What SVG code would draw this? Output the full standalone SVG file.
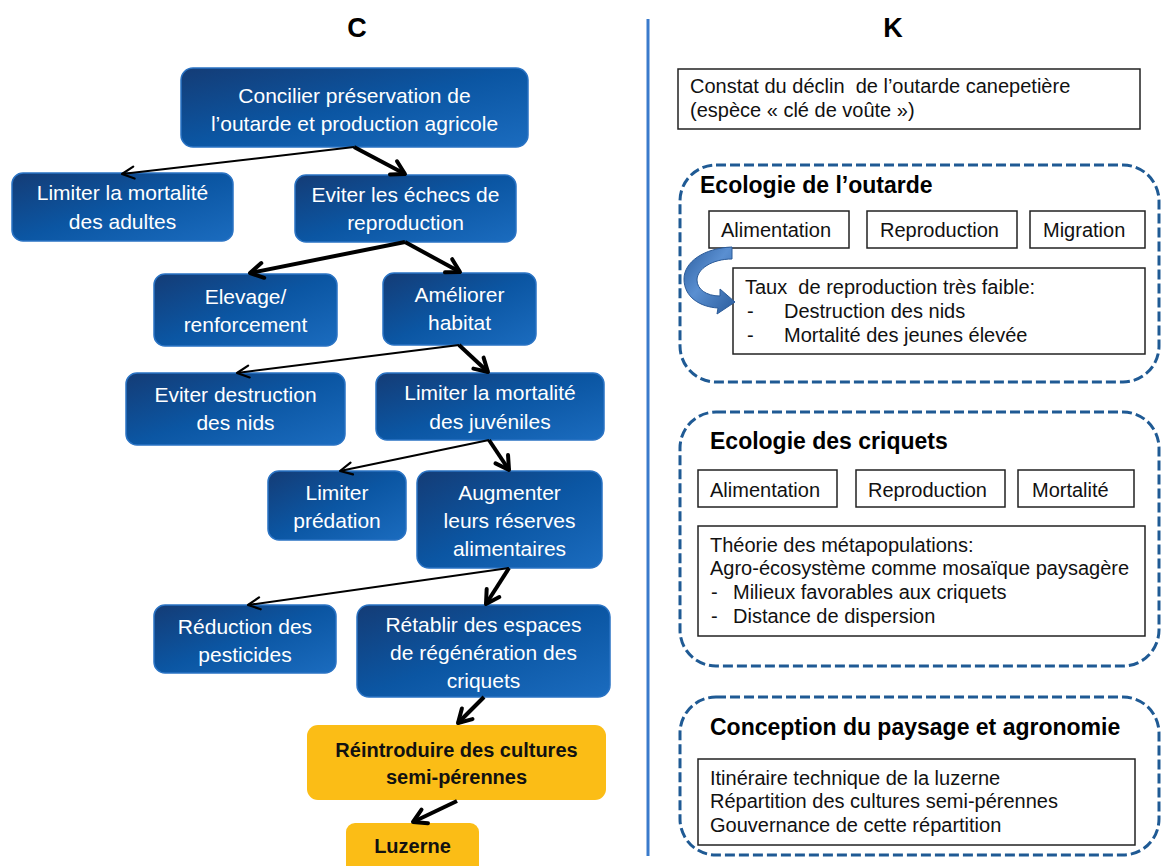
<svg xmlns="http://www.w3.org/2000/svg" width="1163" height="866" viewBox="0 0 1163 866">
<defs>
<linearGradient id="blueG" x1="0" y1="0" x2="1" y2="1">
<stop offset="0" stop-color="#143c76"/>
<stop offset="0.5" stop-color="#0b56a3"/>
<stop offset="1" stop-color="#1b6cbf"/>
</linearGradient>
<linearGradient id="curveG" x1="0" y1="0" x2="1" y2="1">
<stop offset="0" stop-color="#2c5e9f"/>
<stop offset="0.45" stop-color="#5a8fd1"/>
<stop offset="1" stop-color="#2a5c9c"/>
</linearGradient>
<marker id="thin" viewBox="0 0 18 18" refX="15" refY="9" markerWidth="18" markerHeight="18" markerUnits="userSpaceOnUse" orient="auto">
<path d="M3,3 L15,9 L3,15" fill="none" stroke="#000" stroke-width="2.2" stroke-linecap="round" stroke-linejoin="round"/>
</marker>
<marker id="thick" viewBox="0 0 20 20" refX="17" refY="10" markerWidth="20" markerHeight="20" markerUnits="userSpaceOnUse" orient="auto">
<path d="M4,2.5 L17,10 L4,17.5" fill="none" stroke="#000" stroke-width="4" stroke-linecap="round" stroke-linejoin="round"/>
</marker>
</defs>
<style>
.bn{fill:url(#blueG);stroke:#2a73c4;stroke-width:1.5}
.yn{fill:#fbbd16}
.wt{font-family:"Liberation Sans",Arial,sans-serif;font-size:21px;fill:#fff;text-anchor:middle}
.yt{font-family:"Liberation Sans",Arial,sans-serif;font-size:20px;font-weight:bold;fill:#111;text-anchor:middle}
.hd{font-family:"Liberation Sans",Arial,sans-serif;font-size:27px;font-weight:bold;fill:#000;text-anchor:middle}
.kt{font-family:"Liberation Sans",Arial,sans-serif;font-size:20px;fill:#111}
.tt{font-family:"Liberation Sans",Arial,sans-serif;font-size:23px;font-weight:bold;fill:#000}
.bx{fill:#fff;stroke:#222;stroke-width:1.5}
.dash{fill:none;stroke:#1f5a94;stroke-width:3;stroke-dasharray:10 4}
.c1{fill:none;stroke:#000;stroke-width:2;marker-end:url(#thin)}
.c2{fill:none;stroke:#000;stroke-width:4;marker-end:url(#thick)}
</style>
<rect width="1163" height="866" fill="#fff"/>

<text class="hd" x="357" y="37">C</text>
<text class="hd" x="893" y="37">K</text>
<line x1="648" y1="19" x2="648" y2="856" stroke="#3a7bcc" stroke-width="3"/>

<g id="n-concilier">
<rect class="bn" x="181" y="68" width="347" height="79" rx="12"/>
<text class="wt" x="354.5" y="103">Concilier préservation de</text>
<text class="wt" x="354.5" y="131">l’outarde et production agricole</text>
</g>
<g id="n-adultes">
<rect class="bn" x="12" y="173" width="221" height="68" rx="11"/>
<text class="wt" x="122.5" y="200">Limiter la mortalité</text>
<text class="wt" x="122.5" y="229">des adultes</text>
</g>
<g id="n-echecs">
<rect class="bn" x="295" y="175" width="221" height="67" rx="11"/>
<text class="wt" x="405.5" y="202">Eviter les échecs de</text>
<text class="wt" x="405.5" y="230">reproduction</text>
</g>
<g id="n-elevage">
<rect class="bn" x="154" y="274" width="183" height="72" rx="11"/>
<text class="wt" x="245.5" y="304">Elevage/</text>
<text class="wt" x="245.5" y="332">renforcement</text>
</g>
<g id="n-habitat">
<rect class="bn" x="383" y="273" width="153" height="72" rx="11"/>
<text class="wt" x="459.5" y="302">Améliorer</text>
<text class="wt" x="459.5" y="330">habitat</text>
</g>
<g id="n-nids">
<rect class="bn" x="126" y="373" width="219" height="72" rx="11"/>
<text class="wt" x="235.5" y="402">Eviter destruction</text>
<text class="wt" x="235.5" y="430">des nids</text>
</g>
<g id="n-juveniles">
<rect class="bn" x="376" y="373" width="228" height="67" rx="11"/>
<text class="wt" x="490" y="400">Limiter la mortalité</text>
<text class="wt" x="490" y="429">des juvéniles</text>
</g>
<g id="n-predation">
<rect class="bn" x="268" y="471" width="138" height="69" rx="11"/>
<text class="wt" x="337" y="500">Limiter</text>
<text class="wt" x="337" y="528">prédation</text>
</g>
<g id="n-reserves">
<rect class="bn" x="417" y="471" width="185" height="97" rx="12"/>
<text class="wt" x="509.5" y="500">Augmenter</text>
<text class="wt" x="509.5" y="528">leurs réserves</text>
<text class="wt" x="509.5" y="556">alimentaires</text>
</g>
<g id="n-pesticides">
<rect class="bn" x="154" y="605" width="182" height="68" rx="11"/>
<text class="wt" x="245" y="634">Réduction des</text>
<text class="wt" x="245" y="662">pesticides</text>
</g>
<g id="n-espaces">
<rect class="bn" x="357" y="605" width="253" height="92" rx="12"/>
<text class="wt" x="483.5" y="632">Rétablir des espaces</text>
<text class="wt" x="483.5" y="660">de régénération des</text>
<text class="wt" x="483.5" y="688">criquets</text>
</g>
<g id="n-reintroduire">
<rect class="yn" x="307" y="725" width="299" height="75" rx="11"/>
<text class="yt" x="456.5" y="757">Réintroduire des cultures</text>
<text class="yt" x="456.5" y="784">semi-pérennes</text>
</g>
<g id="n-luzerne">
<rect class="yn" x="346" y="823" width="133" height="52" rx="9"/>
<text class="yt" x="412.5" y="853">Luzerne</text>
</g>

<g id="connectors">
<line class="c1" x1="354" y1="147" x2="122" y2="174"/>
<line class="c2" x1="354" y1="147" x2="405" y2="174"/>
<line class="c2" x1="405" y1="242" x2="250" y2="273"/>
<line class="c2" x1="405" y1="242" x2="460" y2="272"/>
<line class="c1" x1="459" y1="345" x2="237" y2="373"/>
<line class="c2" x1="459" y1="345" x2="488" y2="372"/>
<line class="c1" x1="489" y1="440" x2="340" y2="471"/>
<line class="c2" x1="489" y1="440" x2="509" y2="470"/>
<line class="c1" x1="509" y1="568" x2="248" y2="605"/>
<line class="c2" x1="509" y1="568" x2="486" y2="604"/>
<line class="c2" x1="484" y1="697" x2="458" y2="723"/>
<line class="c2" x1="457" y1="801" x2="413" y2="822"/>
</g>

<g id="k-constat">
<rect class="bx" x="678" y="69" width="462" height="60"/>
<text class="kt" x="690" y="93" xml:space="preserve">Constat du déclin  de l’outarde canepetière</text>
<text class="kt" x="690" y="117">(espèce « clé de voûte »)</text>
</g>

<g id="k-outarde">
<rect class="dash" x="680" y="165" width="479" height="217" rx="36"/>
<text class="tt" x="700" y="193">Ecologie de l’outarde</text>
<rect class="bx" x="709" y="211" width="140" height="37"/>
<text class="kt" x="721" y="237">Alimentation</text>
<rect class="bx" x="867" y="211" width="150" height="37"/>
<text class="kt" x="880" y="237">Reproduction</text>
<rect class="bx" x="1030" y="211" width="115" height="37"/>
<text class="kt" x="1043" y="237">Migration</text>
<rect class="bx" x="733" y="268" width="412" height="86"/>
<text class="kt" x="745" y="294" xml:space="preserve">Taux  de reproduction très faible:</text>
<text class="kt" x="747" y="318">-</text>
<text class="kt" x="784" y="318">Destruction des nids</text>
<text class="kt" x="747" y="342">-</text>
<text class="kt" x="784" y="342">Mortalité des jeunes élevée</text>
<path d="M732,247 C704,248 684,262 684,279 C684,297 700,307 718,308 L717,314 L735,302 L720,289 L720,296 C706,296 697,289 697,280 C697,269 712,259 732,259 Z" fill="url(#curveG)" stroke="#2a5a98" stroke-width="1"/>
</g>

<g id="k-criquets">
<rect class="dash" x="680" y="412" width="479" height="254" rx="36"/>
<text class="tt" x="710" y="449">Ecologie des criquets</text>
<rect class="bx" x="698" y="470" width="139" height="37"/>
<text class="kt" x="710" y="497">Alimentation</text>
<rect class="bx" x="856" y="470" width="149" height="37"/>
<text class="kt" x="868" y="497">Reproduction</text>
<rect class="bx" x="1018" y="470" width="116" height="37"/>
<text class="kt" x="1032" y="497">Mortalité</text>
<rect class="bx" x="698" y="526" width="447" height="110"/>
<text class="kt" x="710" y="552">Théorie des métapopulations:</text>
<text class="kt" x="710" y="575">Agro-écosystème comme mosaïque paysagère</text>
<text class="kt" x="711" y="599">-</text>
<text class="kt" x="733" y="599">Milieux favorables aux criquets</text>
<text class="kt" x="711" y="623">-</text>
<text class="kt" x="733" y="623">Distance de dispersion</text>
</g>

<g id="k-paysage">
<rect class="dash" x="680" y="697" width="479" height="158" rx="36"/>
<text class="tt" x="710" y="735">Conception du paysage et agronomie</text>
<rect class="bx" x="698" y="759" width="437" height="86"/>
<text class="kt" x="710" y="785">Itinéraire technique de la luzerne</text>
<text class="kt" x="710" y="808">Répartition des cultures semi-pérennes</text>
<text class="kt" x="710" y="832">Gouvernance de cette répartition</text>
</g>
</svg>
